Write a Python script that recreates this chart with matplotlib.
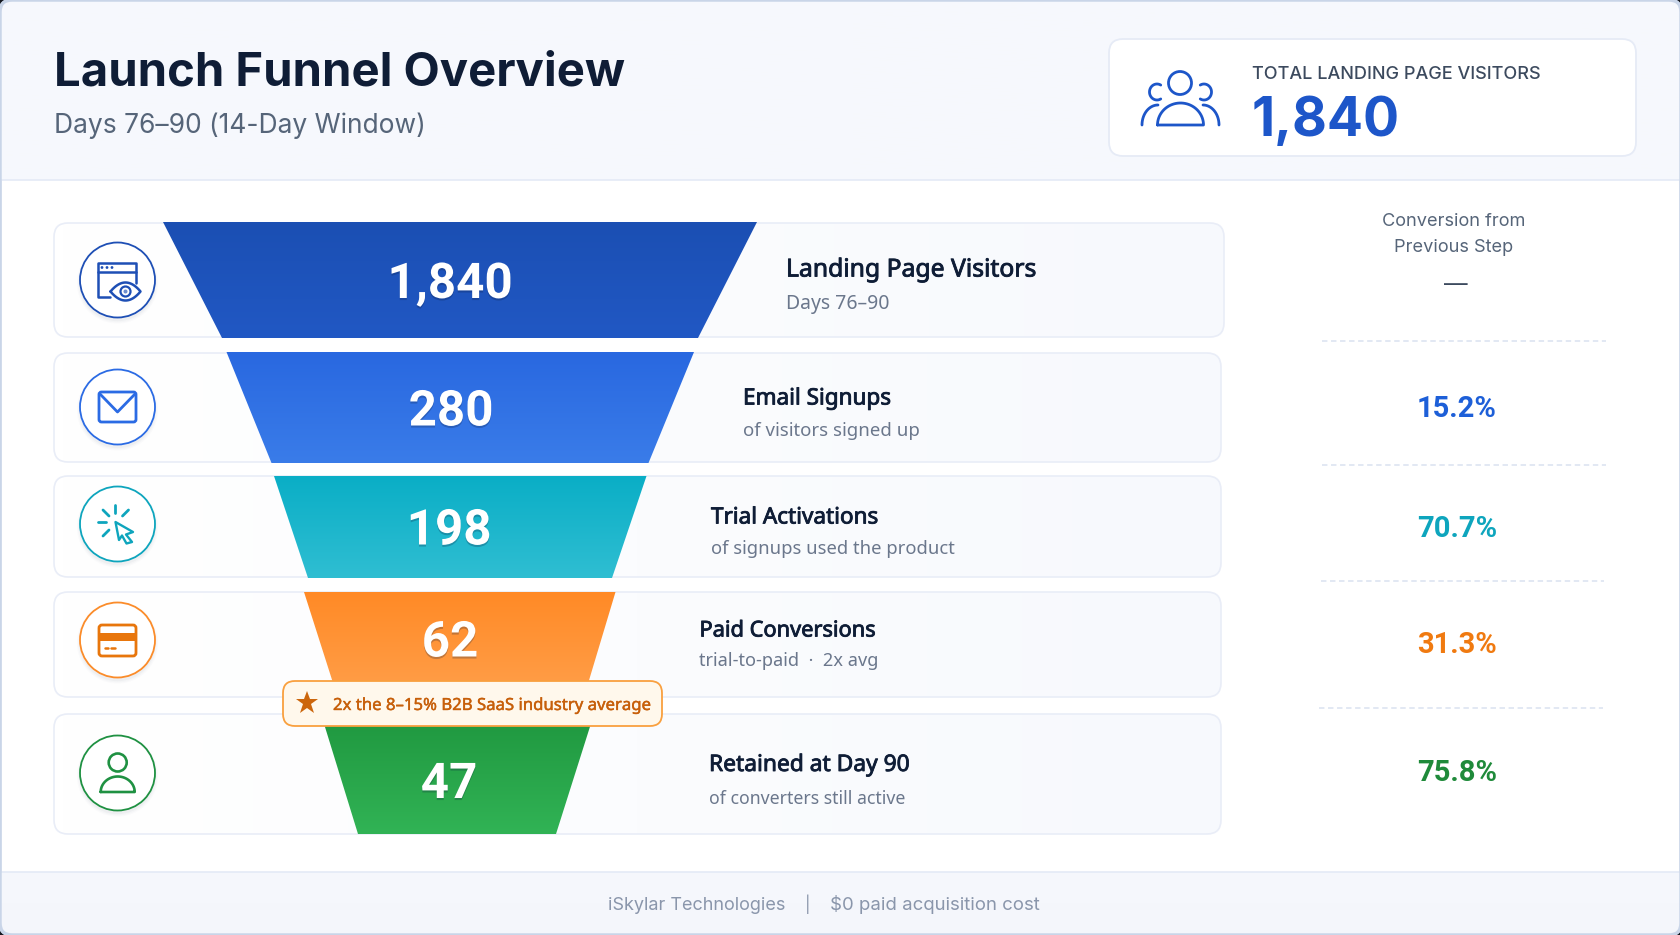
import numpy as np
from matplotlib import pyplot as plt
from matplotlib import patheffects as pe
from matplotlib.colors import LinearSegmentedColormap
from matplotlib.patches import Circle, FancyBboxPatch, Polygon

# values
stage_values = ["1,840", "280", "198", "62", "47"]
stage_names = ["Landing Page Visitors", "Email Signups", "Trial Activations", "Paid Conversions", "Retained at Day 90"]
stage_notes = ["Days 76–90", "of visitors signed up", "of signups used the product", "trial-to-paid  ·  2x avg", "of converters still active"]
conversion = ["—", "15.2%", "70.7%", "31.3%", "75.8%"]

# funnel colours, top and bottom of each band
band_top = ["#1b4fb3", "#2968e0", "#0aaec6", "#ff8a26", "#1f973f"]
band_bottom = ["#2158c4", "#3a7ce9", "#2fbed2", "#ff9f4a", "#31b355"]
ring_colors = ["#1e4fb5", "#2b6be4", "#0ea5bd", "#fb8c2a", "#1f9142"]
icon_colors = ["#1e4fb5", "#2b6be4", "#0ea5bd", "#e8760c", "#1f9142"]
pct_colors = ["#3c4a5e", "#1d5fd8", "#0ea5bd", "#f07a10", "#1f8a3a"]

# layout in pixels of the 1681x935 picture
card_y = [(223, 337), (353, 462), (476, 577), (592, 697), (714, 834)]
card_right = [1224, 1221, 1221, 1221, 1221]
band_y = [(222, 338), (352, 463), (476, 578), (592, 697), (714, 834)]
band_top_x = [(163, 757), (226.5, 694), (274, 646.5), (304, 615.5), (321, 594)]
band_bottom_x = [(222, 698), (271.5, 648.5), (308, 612), (337.5, 584), (358, 556)]
ring_y = [280, 407, 524, 640, 773]
value_xy = [(450, 285), (451, 412.5), (449, 531.5), (450, 643.5), (449, 785)]
label_x = [786, 743, 711, 699.5, 709]
name_y = [270, 399, 518, 631, 765]
note_y = [304, 431, 549, 661, 799]
name_size = [17.8, 16.2, 16.2, 15.7, 16.4]
note_size = [14, 13.4, 13.25, 13.1, 12.75]
pct_y = [285, 409, 529, 645, 773]
dash_y = [341, 465, 581, 708]
dash_x = [(1322, 1606), (1322, 1606), (1321, 1604), (1319, 1603)]

fig = plt.figure(figsize=(16.81, 9.35), dpi=100, facecolor="#14181f")
ax = fig.add_axes([0, 0, 1, 1])
ax.set_xlim(0, 1681)
ax.set_ylim(935, 0)
ax.axis("off")

INTER = "Inter"
NOTO = "Noto Sans"
ROBOTO = "Roboto"


def gradient(x0, x1, y0, y1, c0, c1, clip, vertical=True, z=1):
    cmap = LinearSegmentedColormap.from_list("g", [c0, c1])
    g = np.linspace(0, 1, 128)
    g = g.reshape(-1, 1) if vertical else g.reshape(1, -1)
    im = ax.imshow(g, extent=(x0, x1, y1, y0), cmap=cmap, aspect="auto", zorder=z, interpolation="bilinear")
    im.set_clip_path(clip)
    ax.set_xlim(0, 1681)
    ax.set_ylim(935, 0)


def rounded(x0, y0, x1, y1, r, **kw):
    p = FancyBboxPatch((x0 + r, y0 + r), x1 - x0 - 2 * r, y1 - y0 - 2 * r,
                       boxstyle=f"round,pad={r},rounding_size={r}", **kw)
    ax.add_patch(p)
    return p


def line(xs, ys, color, lw=1.8, z=8):
    ax.plot(xs, ys, color=color, lw=lw, zorder=z, solid_capstyle="round", solid_joinstyle="round")


def ring(x, y, r, color, lw=1.8, fill="none", z=8):
    ax.add_patch(Circle((x, y), r, fc=fill, ec=color, lw=lw, zorder=z))


def arc(x, y, rx, ry, a0, a1, color, lw=1.8):
    t = np.radians(np.linspace(a0, a1, 40))
    line(x + rx * np.cos(t), y + ry * np.sin(t), color, lw)


def dome(x, y, rx, ry, color, lw=1.8):
    # half ellipse on a flat base, y is the base
    t = np.radians(np.linspace(180, 360, 40))
    line(np.r_[x + rx * np.cos(t), x - rx], np.r_[y + ry * np.sin(t), y], color, lw)


def icon_window(c):
    line([110, 98, 98, 136, 136], [297, 297, 263, 263, 283], c)
    line([98, 136], [272, 272], c)
    for dx in [102, 107, 112]:
        ax.add_patch(Circle((dx, 267.5), 1.4, fc=c, ec="none", zorder=8))
    t = np.linspace(-1, 1, 40)
    line(np.r_[125.5 + 15 * t, 125.5 - 15 * t], np.r_[291.5 - 9 * (1 - t ** 2), 291.5 + 9 * (1 - t ** 2)], c)
    ring(125.5, 291.5, 5, c, 1.6)
    ax.add_patch(Circle((125.5, 291.5), 2, fc="#6f8fcf", ec="none", zorder=8))


def icon_mail(c):
    rounded(99, 392, 136, 422, 2.5, fc="none", ec=c, lw=2, zorder=8)
    line([100, 117.5, 135], [394, 412, 394], c, 2)


def icon_click(c):
    for a, b, d, e in [(115, 505, 115, 513), (103, 510, 109, 516), (128.5, 510, 122.5, 516),
                       (98, 522, 106, 522), (103, 536, 109, 530)]:
        line([a, d], [b, e], c, 2)
    cursor = [(115.5, 522), (133, 532), (126, 534.5), (132, 542), (126.5, 543.5), (122, 535.5), (119, 540)]
    ax.add_patch(Polygon(cursor, closed=True, fc="none", ec=c, lw=1.7, zorder=8, joinstyle="round"))


def icon_credit(c):
    rounded(99, 625, 136, 656, 3, fc="none", ec=c, lw=2, zorder=8)
    ax.fill_between([99, 136], 633, 641, color=c, lw=0, zorder=8)
    line([105, 108], [648, 648], c, 1.8)
    line([111, 115], [648, 648], c, 1.8)


def icon_person(c):
    ring(117.7, 762.5, 9, c, 1.9)
    dome(117.7, 792, 17, 15.5, c, 1.9)


icons = [icon_window, icon_mail, icon_click, icon_credit, icon_person]

# page frame, header and footer
frame = rounded(0, 0, 1681, 935, 12, fc="white", ec="#c9d5e8", lw=2, zorder=0)
for box in [(0, 0, 180, "#f6f8fd", "#f7f9fd"), (0, 872, 935, "#f6f8fd", "#f4f6fb")]:
    gradient(0, 1681, box[1], box[2], box[3], box[4], frame, z=0.5)
line([0, 1681], [180, 180], "#e4eaf6", 1.2, 1)
line([0, 1681], [872, 872], "#e4eaf6", 1.2, 1)
frame_edge = rounded(0, 0, 1681, 935, 12, fc="none", ec="#c9d5e8", lw=2.5, zorder=1.5)

ax.text(54, 73.5, "Launch Funnel Overview", family=INTER, weight="bold", fontsize=34, color="#0f1d36", va="center")
ax.text(54, 126, "Days 76–90 (14-Day Window)", family=INTER, fontsize=19, color="#566579", va="center")

# total visitors box
kpi = rounded(1109, 39, 1636, 156, 14, fc="white", ec="#e6ebf6", lw=1.3, zorder=2)
ax.text(1252, 74.5, "TOTAL LANDING PAGE VISITORS", family=INTER, weight="medium", fontsize=13, color="#3c4a5e", va="center")
ax.text(1252, 122, stage_values[0], family=INTER, weight="bold", fontsize=38.5, color="#1d56c9", va="center")
kc = "#1d56c9"
ring(1180, 83, 11.5, kc, 2)
dome(1180.5, 125, 23, 22, kc, 2)
arc(1157, 92, 7.5, 8, 60, 300, kc, 2)
arc(1204, 92, 7.5, 8, -120, 120, kc, 2)
arc(1158, 125, 16, 20, 180, 270, kc, 2)
arc(1203, 125, 16, 20, 270, 360, kc, 2)

# stage rows
for i in range(5):
    y0, y1 = card_y[i]
    row = rounded(54, y0, card_right[i], y1, 14, fc="none", ec="#e9edf7", lw=1.2, zorder=3.5)
    gradient(54, card_right[i], y0, y1, "#ffffff", "#f7f9fd", row, vertical=False, z=3)

    by0, by1 = band_y[i]
    poly = Polygon([(band_top_x[i][0], by0), (band_top_x[i][1], by0),
                    (band_bottom_x[i][1], by1), (band_bottom_x[i][0], by1)], closed=True, fc="none", ec="none", zorder=4)
    ax.add_patch(poly)
    gradient(150, 770, by0, by1, band_top[i], band_bottom[i], poly, z=4)

    # round icon badge with a soft shadow
    for k, a in zip([6, 4, 2], [0.015, 0.02, 0.03]):
        ax.add_patch(Circle((117.5, ring_y[i] + 3), 37 + k * 0.6, fc="#1e2f55", ec="none", alpha=a, zorder=5))
    ring(117.5, ring_y[i], 37.5, ring_colors[i], 1.3, fill="white", z=6)
    icons[i](icon_colors[i])

    ax.text(*value_xy[i], stage_values[i], family=ROBOTO, weight="bold", fontsize=35.5, color="white", ha="center", va="center", zorder=7,
            path_effects=[pe.withSimplePatchShadow(offset=(0, -1.5), shadow_rgbFace="#0b1c3d", alpha=0.25)])
    ax.text(label_x[i], name_y[i], stage_names[i], family=NOTO, fontsize=name_size[i], color="#0f1d36", va="center", zorder=7,
            path_effects=[pe.withStroke(linewidth=0.6, foreground="#0f1d36")])
    ax.text(label_x[i], note_y[i], stage_notes[i], family=NOTO, fontsize=note_size[i], color="#6b778c", va="center", zorder=7)
    if i == 0:
        ax.text(1456, 285, conversion[i], family=INTER, fontsize=17, color=pct_colors[i], ha="center", va="center", zorder=7)
    else:
        ax.text(1457, pct_y[i], conversion[i], family=ROBOTO, weight="bold", fontsize=21, color=pct_colors[i], ha="center", va="center", zorder=7)

for (x0, x1), y in zip(dash_x, dash_y):
    ax.plot([x0, x1], [y, y], color="#dfe6f2", lw=1.3, dashes=(3, 2), zorder=2)

ax.text(1454, 222, "Conversion from", family=INTER, fontsize=13.1, color="#566579", ha="center", va="center")
ax.text(1454, 247, "Previous Step", family=INTER, fontsize=13.1, color="#566579", ha="center", va="center")

# callout over the funnel
rounded(283, 681, 662, 726, 12, fc="#fff8ec", ec="#f9a03f", lw=1.3, zorder=9)
ax.plot([307], [703], marker="*", ms=17, color="#cc660c", mew=0, zorder=10)
ax.text(333, 706, "2x the 8–15% B2B SaaS industry average", family=NOTO, fontsize=12.05, color="#c75f0a", va="center", zorder=10,
        path_effects=[pe.withStroke(linewidth=0.3, foreground="#c75f0a")])

ax.text(608, 906, "iSkylar Technologies", family=INTER, fontsize=13, color="#8a96ab", va="center")
ax.text(808, 904, "|", family=INTER, fontsize=12, color="#8a96ab", va="center", ha="center")
ax.text(830, 905, "$0 paid acquisition cost", family=INTER, fontsize=13.4, color="#8a96ab", va="center")

fig.savefig("out.png", dpi=100, facecolor=fig.get_facecolor())
